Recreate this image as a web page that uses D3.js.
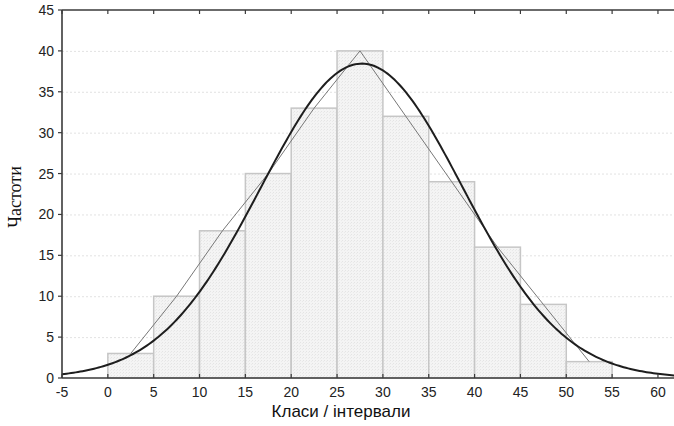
<!DOCTYPE html>
<html>
<head>
<meta charset="utf-8">
<script src="https://cdn.jsdelivr.net/npm/d3@7"></script>
<style>
  body { margin: 0; background: #fff; }
  svg { display: block; }
</style>
</head>
<body>
<script>
(function() {
  'use strict';

  // histogram bins (class lower bound) and frequencies
  const binStarts = [0, 5, 10, 15, 20, 25, 30, 35, 40, 45, 50];
  const counts = [3, 10, 18, 25, 33, 40, 32, 24, 16, 9, 2];
  const binWidth = 5;
  const xTicks = [-5, 0, 5, 10, 15, 20, 25, 30, 35, 40, 45, 50, 55, 60];
  const yTicks = [0, 5, 10, 15, 20, 25, 30, 35, 40, 45];
  // fitted normal curve parameters
  const fitMean = 27.7;
  const fitSd = 11.0;

  const w = 674;
  const h = 426;
  const left = 62, right = 674, top = 10, bottom = 378;

  const xScale = d3.scaleLinear().domain([-5, 61.75]).range([left, right]);
  const yScale = d3.scaleLinear().domain([0, 45]).range([bottom, top]);

  const svg = d3.select('body').append('svg')
    .attr('width', w)
    .attr('height', h);

  // light texture for the bars
  const pat = svg.append('defs').append('pattern')
    .attr('id', 'tex')
    .attr('width', 3)
    .attr('height', 3)
    .attr('patternUnits', 'userSpaceOnUse');
  pat.append('rect').attr('width', 3).attr('height', 3).attr('fill', '#f4f4f4');
  pat.append('rect').attr('x', 0).attr('y', 0).attr('width', 1).attr('height', 1).attr('fill', '#e4e4e4');
  pat.append('rect').attr('x', 2).attr('y', 1).attr('width', 1).attr('height', 1).attr('fill', '#eaeaea');

  // dotted grid lines
  svg.append('g')
    .selectAll('line')
    .data(yTicks.filter((d) => d > 0 && d < 45))
    .enter()
    .append('line')
    .attr('x1', left)
    .attr('x2', right)
    .attr('y1', (d) => yScale(d) + 0.5)
    .attr('y2', (d) => yScale(d) + 0.5)
    .attr('stroke', '#e2e2e2')
    .attr('stroke-width', 1)
    .attr('stroke-dasharray', '2,2');

  // bars
  svg.append('g')
    .selectAll('rect')
    .data(binStarts)
    .enter()
    .append('rect')
    .attr('x', (d) => xScale(d))
    .attr('y', (d, i) => yScale(counts[i]))
    .attr('width', (d) => xScale(d + binWidth) - xScale(d))
    .attr('height', (d, i) => yScale(0) - yScale(counts[i]))
    .attr('fill', 'url(#tex)')
    .attr('stroke', '#c6c6c6')
    .attr('stroke-width', 1.5);

  // frequency polygon through the bar midpoints
  const polyLine = d3.line()
    .x((d) => xScale(d + binWidth / 2))
    .y((d, i) => yScale(counts[i]));
  svg.append('path')
    .attr('d', polyLine(binStarts))
    .attr('fill', 'none')
    .attr('stroke', '#777')
    .attr('stroke-width', 1);

  // fitted normal curve, scaled to counts
  const total = d3.sum(counts);
  const norm = (x) => total * binWidth / (fitSd * Math.sqrt(2 * Math.PI)) *
    Math.exp(-0.5 * Math.pow((x - fitMean) / fitSd, 2));
  const xs = d3.range(-5, 62.01, 0.25);
  const curve = d3.line()
    .x((d) => xScale(d))
    .y((d) => yScale(norm(d)));
  svg.append('path')
    .attr('d', curve(xs))
    .attr('fill', 'none')
    .attr('stroke', '#1e1e1e')
    .attr('stroke-width', 2);

  // axes frame
  const axisColor = '#3a3a3a';
  svg.append('line')
    .attr('x1', left).attr('x2', right)
    .attr('y1', bottom).attr('y2', bottom)
    .attr('stroke', axisColor).attr('stroke-width', 1.6);
  svg.append('line')
    .attr('x1', left).attr('x2', right)
    .attr('y1', top).attr('y2', top)
    .attr('stroke', axisColor).attr('stroke-width', 1.6);
  svg.append('line')
    .attr('x1', left).attr('x2', left)
    .attr('y1', top).attr('y2', bottom)
    .attr('stroke', axisColor).attr('stroke-width', 1.6);

  // x ticks (inward, bottom and top) and labels
  const xg = svg.append('g');
  xTicks.forEach((t) => {
    const x = xScale(t);
    xg.append('line')
      .attr('x1', x).attr('x2', x)
      .attr('y1', bottom).attr('y2', bottom - 4)
      .attr('stroke', axisColor).attr('stroke-width', 1.2);
    xg.append('line')
      .attr('x1', x).attr('x2', x)
      .attr('y1', top).attr('y2', top + 4)
      .attr('stroke', axisColor).attr('stroke-width', 1.2);
    xg.append('text')
      .attr('x', x)
      .attr('y', 397)
      .attr('text-anchor', 'middle')
      .style('font-family', 'Liberation Sans, Arial, sans-serif')
      .style('font-size', '14px')
      .attr('fill', '#222')
      .text(t);
  });

  // y ticks and labels
  const yg = svg.append('g');
  yTicks.forEach((t) => {
    const y = yScale(t);
    yg.append('line')
      .attr('x1', left - 4).attr('x2', left)
      .attr('y1', y).attr('y2', y)
      .attr('stroke', axisColor).attr('stroke-width', 1.2);
    yg.append('text')
      .attr('x', 54)
      .attr('y', y + 5)
      .attr('text-anchor', 'end')
      .style('font-family', 'Liberation Sans, Arial, sans-serif')
      .style('font-size', '14px')
      .attr('fill', '#222')
      .text(t);
  });

  // axis titles
  svg.append('text')
    .attr('x', 341)
    .attr('y', 417)
    .attr('text-anchor', 'middle')
    .style('font-family', 'Liberation Sans, Arial, sans-serif')
    .style('font-size', '17px')
    .attr('fill', '#111')
    .text('Класи / інтервали');

  svg.append('text')
    .attr('transform', 'translate(21,197) rotate(-90)')
    .attr('text-anchor', 'middle')
    .style('font-family', 'Liberation Serif, Times New Roman, serif')
    .style('font-size', '18px')
    .attr('fill', '#111')
    .text('Частоти');
}());
</script>
</body>
</html>
